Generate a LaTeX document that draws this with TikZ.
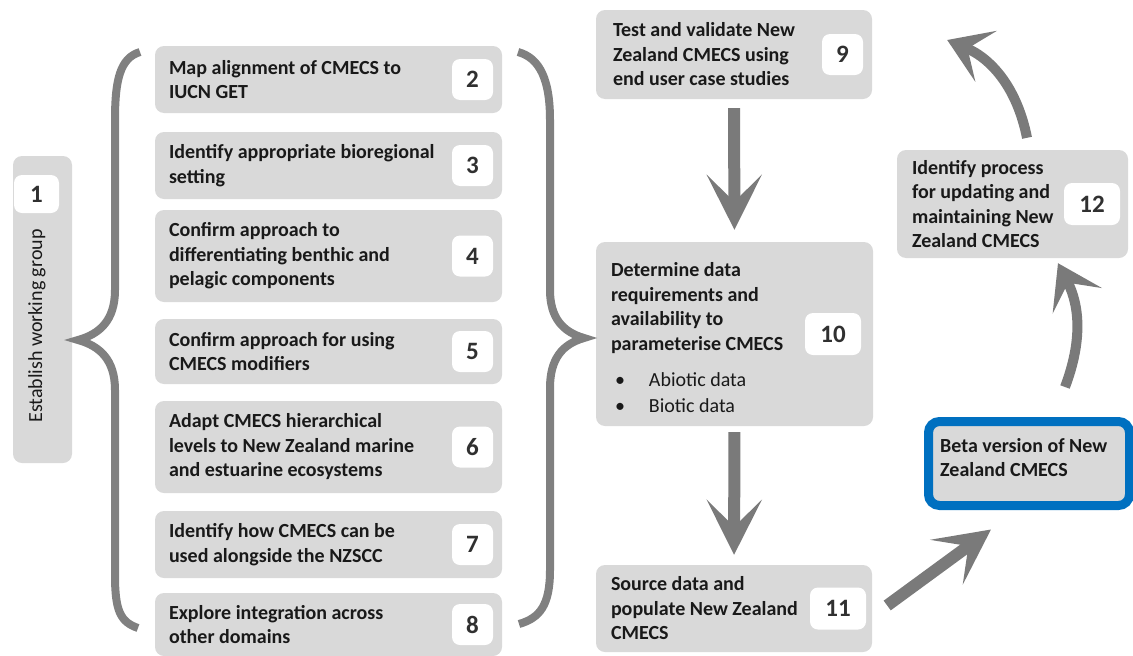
\documentclass[tikz,border=0pt]{standalone}
\usepackage{fontspec}
\setmainfont{Carlito}
\usetikzlibrary{arrows.meta,positioning}
\definecolor{boxgray}{RGB}{217,217,217}
\definecolor{arrowgray}{RGB}{122,122,122}
\definecolor{bracegray}{RGB}{128,128,128}
\definecolor{betablue}{RGB}{0,112,192}
\definecolor{textblack}{RGB}{25,25,25}
\newcommand{\tasksize}{\fontsize{20}{24.5}\selectfont}
\newcommand{\numsize}{\fontsize{25}{28}\selectfont}

\begin{document}
\begin{tikzpicture}[x=1pt,y=-1pt,
  taskbox/.style={rounded corners=9pt,fill=boxgray,inner sep=0pt},
  tasktext/.style={inner sep=0pt,align=left,font=\tasksize\bfseries,text=textblack},
  numbox/.style={rounded corners=8pt,fill=white,inner sep=0pt,minimum width=41pt,minimum height=41pt,font=\numsize\bfseries,text=textblack!90},
  widenum/.style={numbox,minimum width=56pt,minimum height=42pt}]
\useasboundingbox (0,0) rectangle (1133,656);

\begin{scope}[every node/.style={taskbox}]
    \node[minimum width=59pt,minimum height=307pt] (b1) at (42.5,309.5) {};
    \node[minimum width=347pt,minimum height=67pt] (b2) at (328.5,79.5) {};
    \node[minimum width=347pt,minimum height=67pt] (b3) at (328.5,165.5) {};
    \node[minimum width=347pt,minimum height=92pt] (b4) at (328.5,256) {};
    \node[minimum width=347pt,minimum height=65pt] (b5) at (328.5,351.5) {};
    \node[minimum width=347pt,minimum height=92pt] (b6) at (328.5,447) {};
    \node[minimum width=347pt,minimum height=67pt] (b7) at (328.5,544.5) {};
    \node[minimum width=347pt,minimum height=63pt] (b8) at (328.5,624.5) {};
    \node[minimum width=276pt,minimum height=89pt] (b9) at (734,54.5) {};
    \node[minimum width=277pt,minimum height=184pt] (b10) at (734.5,334) {};
    \node[minimum width=276pt,minimum height=87pt] (b11) at (734,608.5) {};
    \node[minimum width=231pt,minimum height=108pt] (b12) at (1012.5,204) {};
    \node[draw=betablue,line width=9pt,rounded corners=11pt,minimum width=201pt,minimum height=84pt] (beta) at (1029,463.5) {};
\end{scope}

% step 1
\node[numbox,minimum width=45pt,minimum height=38pt] (n1) at (36.5,194) {1};
\node[rotate=90,inner sep=0pt,font=\tasksize,text=textblack] (t1) at (37,326) {Establish working group};

% steps 2 to 8
\node[tasktext,right=14pt of b2.west] (t2) {Map alignment of CMECS to\\IUCN GET};
\node[numbox,left=9pt of b2.east] (n2) {2};
\node[tasktext,right=14pt of b3.west] (t3) {Identify appropriate bioregional\\setting};
\node[numbox,left=9pt of b3.east] (n3) {3};
\node[tasktext,right=14pt of b4.west] (t4) {Confirm approach to\\differentiating benthic and\\pelagic components};
\node[numbox,left=9pt of b4.east] (n4) {4};
\node[tasktext,right=14pt of b5.west] (t5) {Confirm approach for using\\CMECS modifiers};
\node[numbox,left=9pt of b5.east] (n5) {5};
\node[tasktext,right=14pt of b6.west] (t6) {Adapt CMECS hierarchical\\levels to New Zealand marine\\and estuarine ecosystems};
\node[numbox,left=9pt of b6.east] (n6) {6};
\node[tasktext,right=14pt of b7.west] (t7) {Identify how CMECS can be\\used alongside the NZSCC};
\node[numbox,left=9pt of b7.east] (n7) {7};
\node[tasktext,right=14pt of b8.west] (t8) {Explore integration across\\other domains};
\node[numbox,left=9pt of b8.east] (n8) {8};

% steps 9 to 12
\node[tasktext,right=17pt of b9.west] (t9) {Test and validate New\\Zealand CMECS using\\end user case studies};
\node[numbox,left=9pt of b9.east] (n9) {9};
\node[tasktext,right=15pt of b10.west,yshift=-4pt] (t10) {Determine data\\requirements and\\availability to\\parameterise CMECS\\[12pt]
  \mdseries\hspace*{4pt}\makebox[34pt][l]{\textbullet}Abiotic data\\[1.5pt]
  \mdseries\hspace*{4pt}\makebox[34pt][l]{\textbullet}Biotic data};
\node[widenum,left=12pt of b10.east] (n10) {10};
\node[tasktext,right=15pt of b11.west] (t11) {Source data and\\populate New Zealand\\CMECS};
\node[widenum,left=6pt of b11.east] (n11) {11};
\node[tasktext,right=15pt of b12.west] (t12) {Identify process\\for updating and\\maintaining New\\Zealand CMECS};
\node[widenum,left=8pt of b12.east] (n12) {12};
\node[tasktext,right=16pt of beta.west,yshift=6pt] (tbeta) {Beta version of New\\Zealand CMECS};

% braces
\draw[bracegray,line width=8pt] (140,52) .. controls (120,58) and (115,80) .. (115,120) -- (115,290)
    .. controls (115,320) and (100,334) .. (78,340) .. controls (100,346) and (115,360) .. (115,390)
    -- (115,575) .. controls (115,610) and (120,622) .. (138,628);
\draw[bracegray,line width=8pt] (518,52) .. controls (540,58) and (550,80) .. (550,120) -- (550,290)
    .. controls (550,318) and (563,332) .. (584,338) .. controls (563,344) and (550,358) .. (550,388)
    -- (550,570) .. controls (550,605) and (540,618) .. (519,624);

\begin{scope}[>={Stealth[length=55pt,width=55pt,inset=27pt]},
              every edge/.style={draw=arrowgray,line width=12pt}]
    \path (b9.south) edge[->,shorten <=9pt,shorten >=12pt] (b10.north);
    \path (b10.south) edge[->,shorten <=6pt,shorten >=10pt] (b11.north);
    \path ([xshift=15pt,yshift=3pt]b11.east) edge[->] ([xshift=-38pt,yshift=-19.5pt]beta.south);
    \path ([xshift=36pt,yshift=30pt]beta.north) edge[-{Stealth[length=42pt,width=55pt,inset=20pt]},line width=10pt,bend right=24] ([xshift=45.5pt,yshift=-5pt]b12.south);
    \path ([xshift=14.5pt,yshift=12pt]b12.north) edge[-{Stealth[length=42pt,width=55pt,inset=20pt]},line width=10pt,bend right=28] ([xshift=75pt,yshift=14.5pt]b9.east);
\end{scope}
\end{tikzpicture}
\end{document}
